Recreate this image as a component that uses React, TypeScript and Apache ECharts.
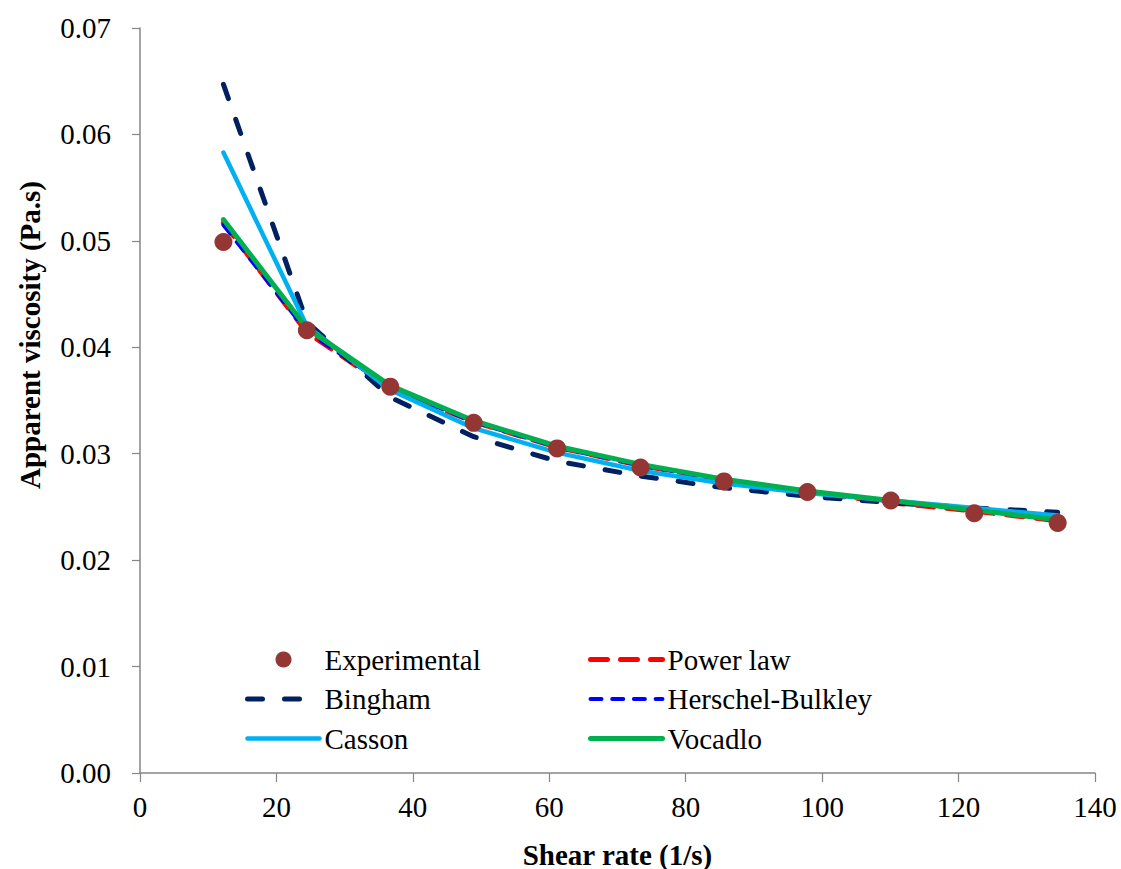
import React, { useEffect, useRef } from "react";
import * as echarts from "echarts";

const shearRate = [12.23, 24.46, 36.69, 48.92, 61.15, 73.38, 85.61, 97.84, 110.07, 122.3, 134.53];
const experimental = [0.0499, 0.0416, 0.0363, 0.0329, 0.0305, 0.0287, 0.0274, 0.0264, 0.0256, 0.0244, 0.0235];
const powerLaw = [0.0517, 0.0414, 0.0361, 0.033, 0.0306, 0.0289, 0.0275, 0.0264, 0.0254, 0.0246, 0.0237];
const bingham = [0.0647, 0.0424, 0.0353, 0.0316, 0.0293, 0.0279, 0.0268, 0.026, 0.0254, 0.0249, 0.0245];
const herschelBulkley = [0.0515, 0.0415, 0.0362, 0.033, 0.0306, 0.0289, 0.0275, 0.0265, 0.0255, 0.0247, 0.0238];
const casson = [0.0583, 0.042, 0.036, 0.0324, 0.0301, 0.0284, 0.0272, 0.0263, 0.0256, 0.0249, 0.0242];
const vocadlo = [0.052, 0.0418, 0.0364, 0.0331, 0.0307, 0.029, 0.0276, 0.0265, 0.0256, 0.0247, 0.0238];

const xTicks = [0, 20, 40, 60, 80, 100, 120, 140];
const yTicks = [0, 0.01, 0.02, 0.03, 0.04, 0.05, 0.06, 0.07];

const pair = (ys: number[]) => ys.map((y, i) => [shearRate[i], y]);

const FONT = "Liberation Serif";
const FS = 29;
const AXIS_COLOR = "#868686";

type Style = { color: string; width: number; dash: any };
const styles: Record<string, Style> = {
  "Power law": { color: "#FF0000", width: 5, dash: [17, 13] },
  "Herschel-Bulkley": { color: "#0000FF", width: 4, dash: [11, 10.7] },
  Bingham: { color: "#002060", width: 5, dash: [15, 22] },
  Casson: { color: "#00B0F0", width: 4.5, dash: "solid" },
  Vocadlo: { color: "#00B050", width: 5, dash: "solid" },
};

export default function App() {
  const ref = useRef<HTMLDivElement>(null);
  useEffect(() => {
    if (!ref.current) return;
    document.body.style.margin = "0";
    const chart = echarts.init(ref.current, undefined, { renderer: "svg" });
    const lineSeries = (name: string, data: number[], z: number) => {
      const s = styles[name];
      return {
        name,
        type: "line",
        data: pair(data),
        symbol: "none",
        showSymbol: false,
        z,
        lineStyle: { color: s.color, width: s.width, type: s.dash, cap: "round", join: "round" },
        itemStyle: { color: s.color },
      };
    };
    const legendItem = (name: string) => {
      if (name === "Experimental") {
        return { name, itemStyle: { color: "#943634", opacity: 1 } };
      }
      const s = styles[name];
      return {
        name,
        itemStyle: { opacity: 0 },
        lineStyle: { color: s.color, width: s.width, type: s.dash, cap: "round", opacity: 1 },
      };
    };
    const legendBase = {
      orient: "vertical",
      top: 640,
      itemWidth: 72,
      itemHeight: 16,
      itemGap: 10.5,
      textStyle: { fontFamily: FONT, fontSize: FS, color: "#000" },
    };
    chart.setOption({
      animation: false,
      grid: { left: 140, right: 26, top: 28, bottom: 96, containLabel: false, outerBoundsMode: "none" },
      xAxis: {
        type: "value",
        min: xTicks[0],
        max: xTicks[xTicks.length - 1],
        interval: 20,
        name: "Shear rate (1/s)",
        nameLocation: "middle",
        nameGap: 67,
        nameTextStyle: { fontFamily: FONT, fontSize: FS, fontWeight: "bold", color: "#000" },
        axisLine: { show: true, lineStyle: { color: AXIS_COLOR, width: 1.5 } },
        axisTick: { show: true, length: 9, lineStyle: { color: AXIS_COLOR, width: 1.2 } },
        axisLabel: { fontFamily: FONT, fontSize: FS, color: "#000", margin: 19 },
        splitLine: { show: false },
      },
      yAxis: {
        type: "value",
        min: yTicks[0],
        max: yTicks[yTicks.length - 1],
        interval: 0.01,
        axisLine: { show: true, lineStyle: { color: AXIS_COLOR, width: 1.5 } },
        axisTick: { show: true, length: 8, lineStyle: { color: AXIS_COLOR, width: 1.2 } },
        axisLabel: {
          fontFamily: FONT,
          fontSize: FS,
          color: "#000",
          margin: 29,
          formatter: (v: number) => v.toFixed(2),
        },
        splitLine: { show: false },
      },
      graphic: [
        {
          type: "text",
          x: 30,
          y: 335,
          rotation: Math.PI / 2,
          style: {
            text: "Apparent viscosity (Pa.s)",
            fontFamily: FONT,
            fontSize: FS,
            fontWeight: "bold",
            fill: "#000",
            align: "center",
            verticalAlign: "middle",
          },
        },
      ],
      legend: [
        { ...legendBase, left: 240, data: ["Experimental", "Bingham", "Casson"].map(legendItem) },
        { ...legendBase, left: 583, data: ["Power law", "Herschel-Bulkley", "Vocadlo"].map(legendItem) },
      ],
      series: [
        lineSeries("Power law", powerLaw, 2),
        lineSeries("Herschel-Bulkley", herschelBulkley, 3),
        lineSeries("Bingham", bingham, 4),
        lineSeries("Casson", casson, 5),
        lineSeries("Vocadlo", vocadlo, 6),
        {
          name: "Experimental",
          type: "scatter",
          data: pair(experimental),
          symbol: "circle",
          symbolSize: 18,
          z: 10,
          itemStyle: { color: "#943634", opacity: 1 },
        },
      ],
    });
    return () => chart.dispose();
  }, []);
  return <div ref={ref} style={{ width: 1121, height: 869 }} />;
}
